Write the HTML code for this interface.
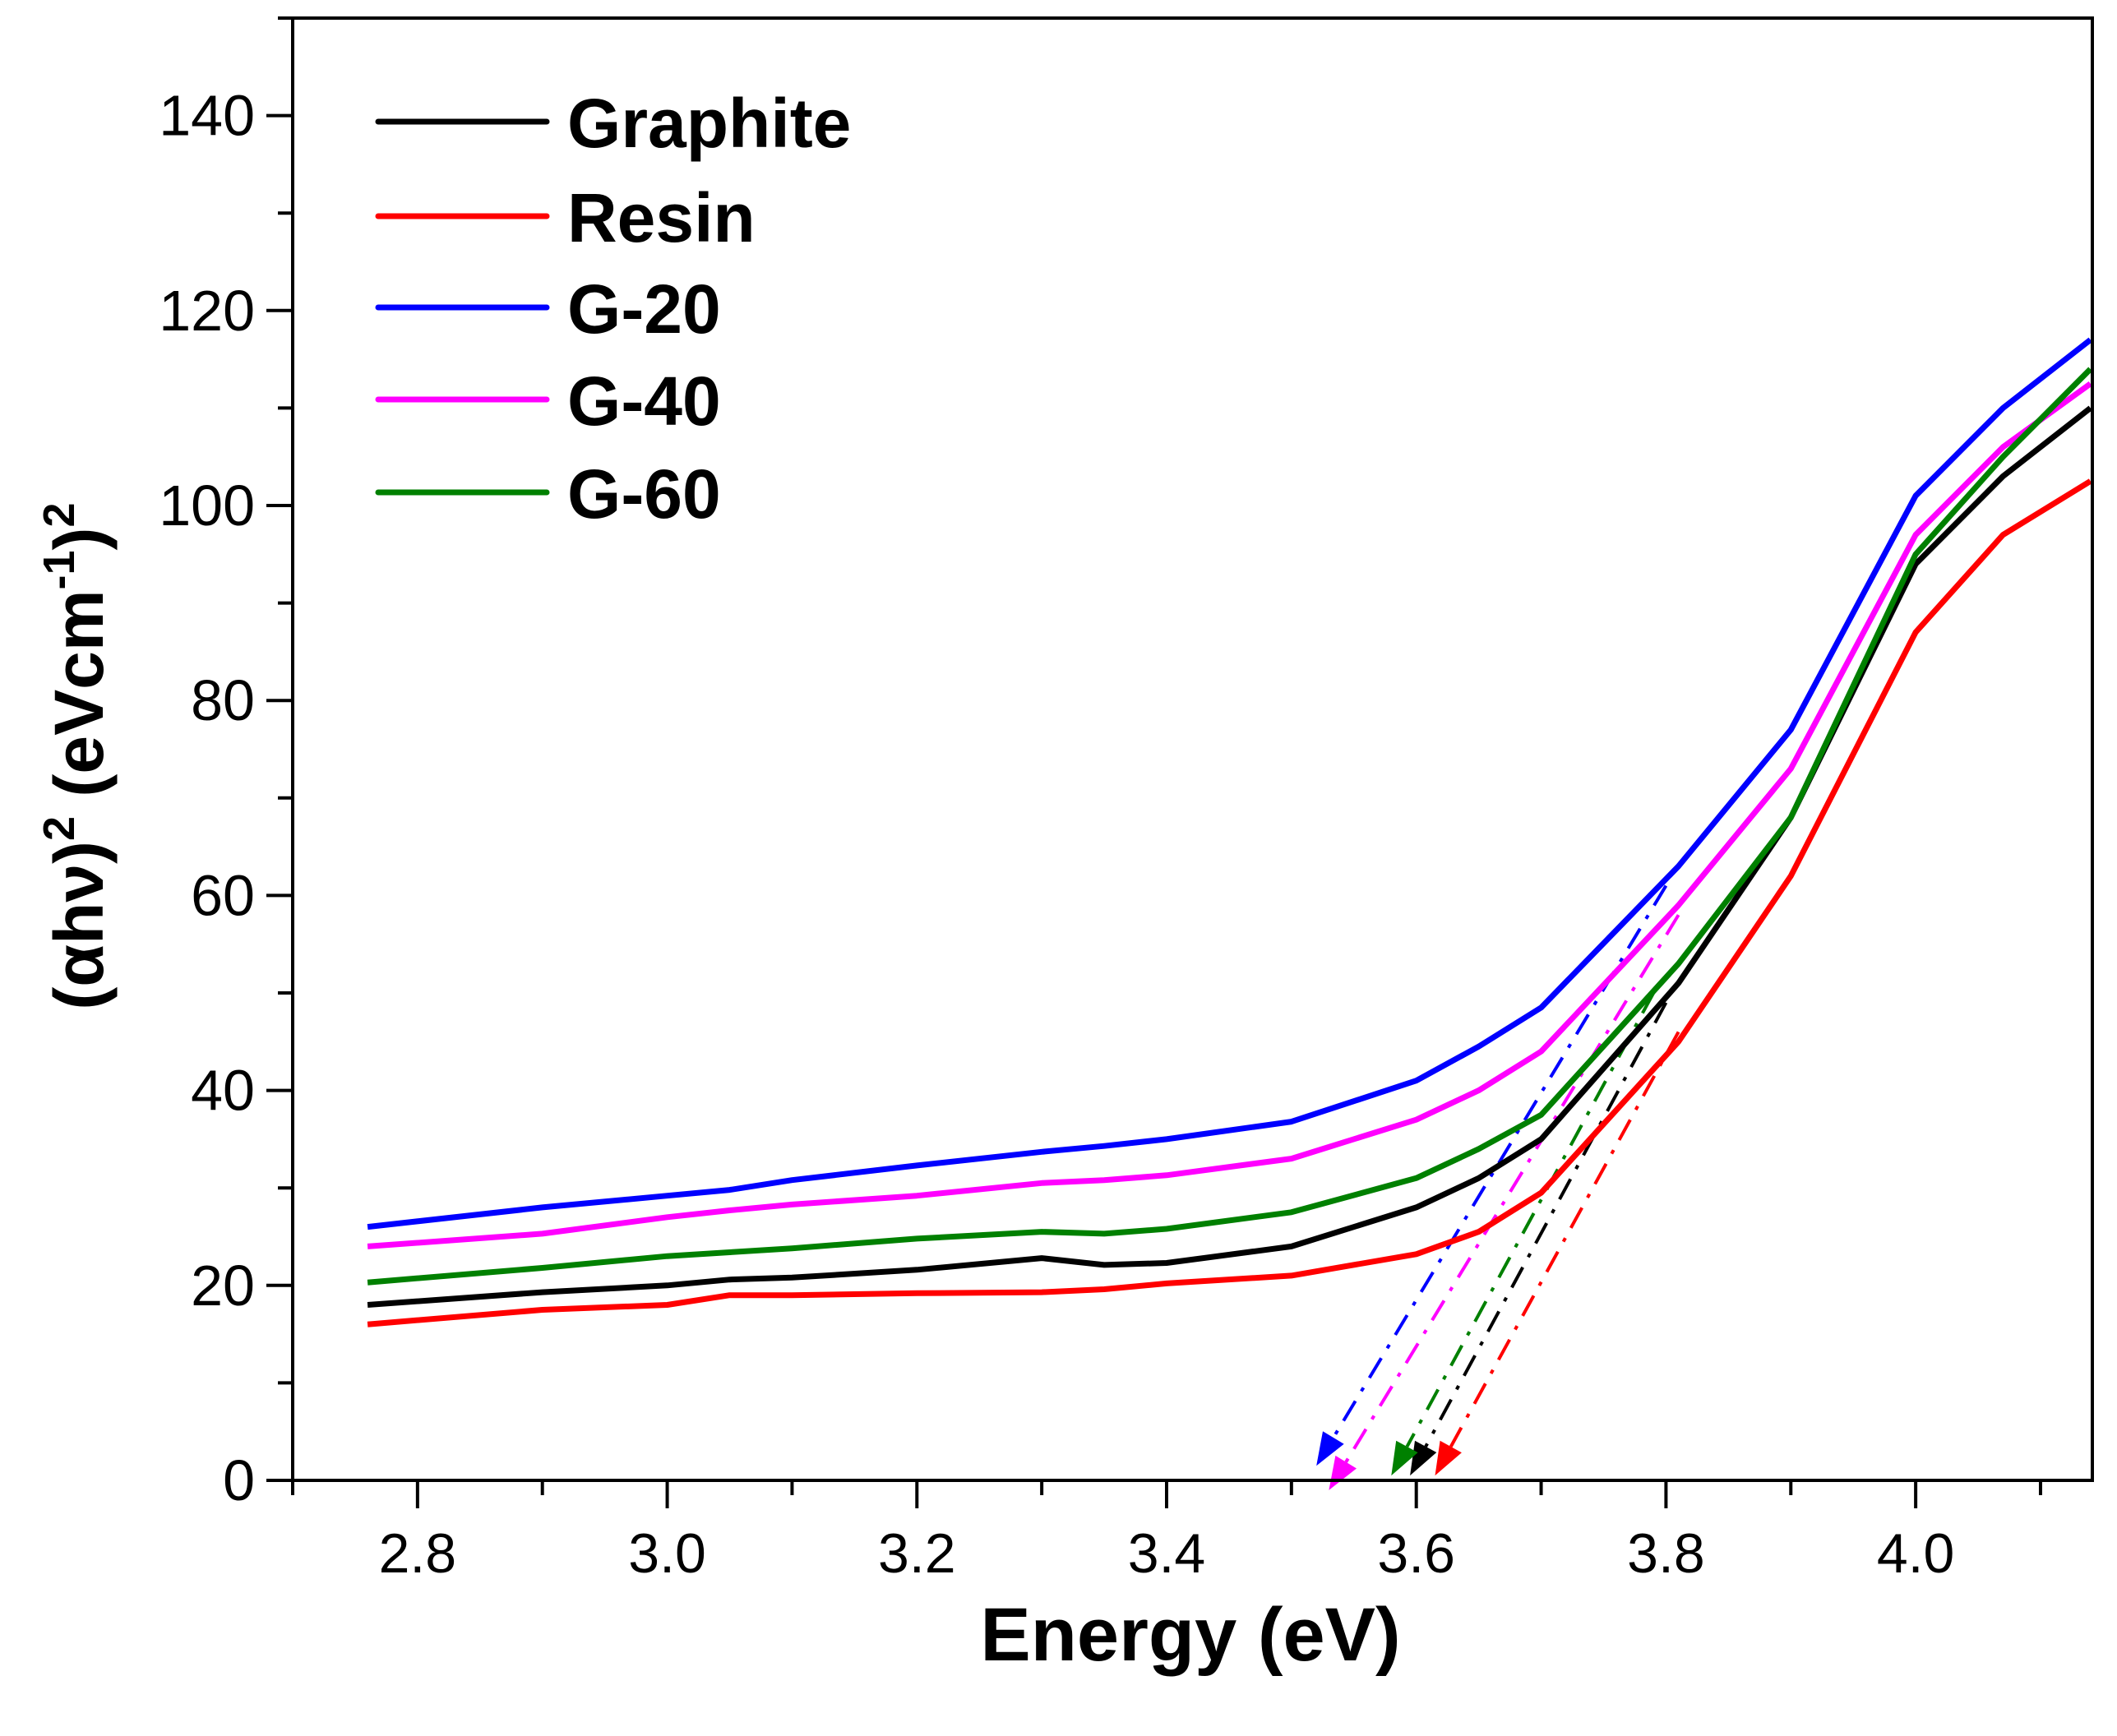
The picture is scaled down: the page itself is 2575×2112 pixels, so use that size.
<!DOCTYPE html>
<html><head><meta charset="utf-8">
<style>
html,body{margin:0;padding:0;background:#fff;}
svg{display:block;}
text{font-family:"Liberation Sans",Arial,sans-serif;}
</style></head>
<body>
<svg id="chart" width="2575" height="2112" viewBox="0 0 2575 2112" xmlns="http://www.w3.org/2000/svg">
<g id="series"></g>
<g id="axes"></g>
<g id="legend"></g>
<text x="1448" y="2020" font-size="92" font-weight="bold" text-anchor="middle">Energy (eV)</text>
<text transform="translate(125,920) rotate(-90)" font-size="84" font-weight="bold" text-anchor="middle">(αhν)<tspan font-size="54" dy="-35">2</tspan><tspan dy="35"> (eVcm</tspan><tspan font-size="54" dy="-35">-1</tspan><tspan dy="35">)</tspan><tspan font-size="54" dy="-35">2</tspan></text>
</svg>
<script>
const seriesNames = ["Graphite","Resin","G-20","G-40","G-60"];
const seriesColors = ["#000000","#ff0000","#0000ff","#ff00ff","#008000"];
const energyX = [2.76,2.9,3.0,3.05,3.1,3.2,3.3,3.35,3.4,3.5,3.6,3.65,3.7,3.81,3.9,4.0,4.07,4.14];
const graphiteY = [18,19.3,20,20.6,20.8,21.6,22.8,22.1,22.3,24,28,31,35,51,68,94,103,110];
const resinY    = [16,17.5,18,19,19,19.2,19.3,19.6,20.2,21,23.2,25.5,29.5,45,62,87,97,102.5];
const g20Y      = [26,28,29.2,29.8,30.8,32.3,33.7,34.3,35,36.8,41,44.5,48.5,63,77,101,110,117];
const g40Y      = [24,25.3,27,27.7,28.3,29.2,30.5,30.8,31.3,33,37,40,44,59,73,97,106,112.5];
const g60Y      = [20.3,21.8,23,23.4,23.8,24.8,25.5,25.3,25.8,27.5,31,34,37.5,53,68,95,105,114];
const fitX0 = [3.595,3.615,3.52,3.53,3.58];
const fitY0 = [0.5,0.5,1.5,-1,0.5];
const fitX1 = [3.80,3.81,3.80,3.81,3.79];
const fitY1 = [49,46,61,58,50];
const xTicks = [2.8,3.0,3.2,3.4,3.6,3.8,4.0];
const xTickLabels = ["2.8","3.0","3.2","3.4","3.6","3.8","4.0"];
const yTicks = [0,20,40,60,80,100,120,140];
const yTickLabels = ["0","20","40","60","80","100","120","140"];

const NS="http://www.w3.org/2000/svg";
const L=356,R=2545,T=22,B=1801;
const xMin=2.7,xMax=4.1415,yMin=0,yMax=150;
const sx=v=>L+(v-xMin)/(xMax-xMin)*(R-L);
const sy=v=>B-(v-yMin)/(yMax-yMin)*(B-T);
function mk(tag,attrs,parent){const e=document.createElementNS(NS,tag);for(const k in attrs)e.setAttribute(k,attrs[k]);parent.appendChild(e);return e;}
const gS=document.getElementById('series'),gA=document.getElementById('axes'),gL=document.getElementById('legend');
const allY=[graphiteY,resinY,g20Y,g40Y,g60Y];
const slugs=["graphite","resin","g-20","g-40","g-60"];
for(let i=0;i<5;i++){
  const x1=sx(fitX1[i]),y1=sy(fitY1[i]),x2=sx(fitX0[i]),y2=sy(fitY0[i]);
  const dx=x2-x1,dy=y2-y1,len=Math.hypot(dx,dy),ux=dx/len,uy=dy/len;
  const hl=40,hw=15;
  const bx=x2-ux*hl,by=y2-uy*hl;
  const ln=mk('line',{x1:x1,y1:y1,x2:bx,y2:by,stroke:seriesColors[i],'stroke-width':4,'stroke-dasharray':'28 14 5 14'},gS);
  
  
  const pts=[[x2,y2],[bx-uy*hw,by+ux*hw],[bx+uy*hw,by-ux*hw]].map(p=>p[0].toFixed(1)+','+p[1].toFixed(1)).join(' ');
  const ah=mk('polygon',{points:pts,fill:seriesColors[i]},gS);
  
  
}
for(let i=0;i<5;i++){
  const d=energyX.map((x,j)=>(j?'L':'M')+sx(x).toFixed(1)+','+sy(allY[i][j]).toFixed(1)).join(' ');
  const p=mk('path',{d:d,fill:'none',stroke:seriesColors[i],'stroke-width':7,'stroke-linejoin':'round'},gS);
  
  
}
const fr=mk('rect',{x:L,y:T,width:R-L,height:B-T,fill:'none',stroke:'#000','stroke-width':4},gA);


for(let v=2.7;v<=4.15;v+=0.1){
  const vv=Math.round(v*10)/10; const major=xTicks.includes(vv);
  const t=mk('line',{x1:sx(vv),y1:B,x2:sx(vv),y2:B+(major?34:18),stroke:'#000','stroke-width':4},gA);
  
  
}
xTicks.forEach((v,i)=>{const t=mk('text',{x:sx(v),y:B+112,'font-size':68,'text-anchor':'middle'},gA);t.textContent=xTickLabels[i];
  
  });
for(let v=0;v<=150;v+=10){
  const major=v%20===0;
  const t=mk('line',{x1:L,y1:sy(v),x2:L-(major?32:18),y2:sy(v),stroke:'#000','stroke-width':4},gA);
  
  
}
yTicks.forEach((v,i)=>{const t=mk('text',{x:L-46,y:sy(v)+24,'font-size':70,'text-anchor':'end'},gA);t.textContent=yTickLabels[i];
  
  });
const legY=[148,263,374,486,599];
for(let i=0;i<5;i++){
  const ln=mk('line',{x1:460,y1:legY[i],x2:665,y2:legY[i],stroke:seriesColors[i],'stroke-width':7,'stroke-linecap':'round'},gL);
  
  
  const t=mk('text',{x:690,y:legY[i]+31,'font-size':84,'font-weight':'bold'},gL);t.textContent=seriesNames[i];
  
  
}
</script>
</body></html>
